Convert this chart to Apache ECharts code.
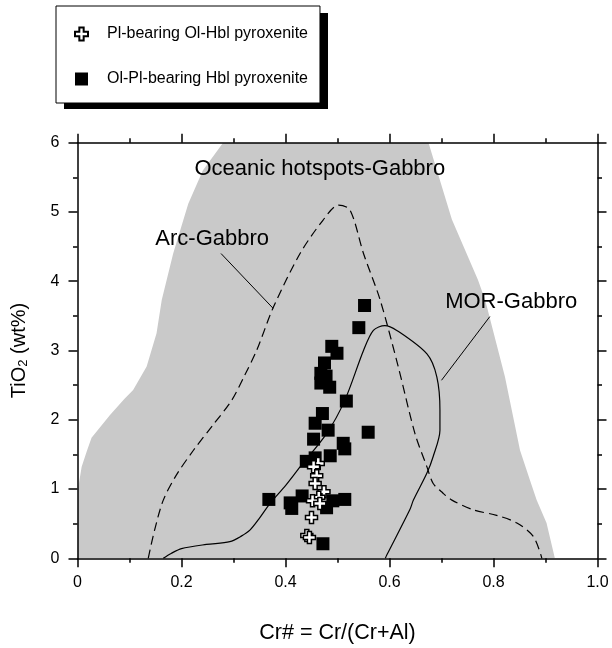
<!DOCTYPE html>
<html><head><meta charset="utf-8">
<script src="https://cdn.jsdelivr.net/npm/echarts/dist/echarts.min.js"></script>
<style>html,body{margin:0;padding:0;background:#fff}#c{width:612px;height:648px}</style>
</head><body><div id="c"></div>
<script>
const FONT = "'Liberation Sans', Arial, Helvetica, sans-serif";

const xTicks = [0, 0.2, 0.4, 0.6, 0.8, 1.0];
const xTickLabels = ['0', '0.2', '0.4', '0.6', '0.8', '1.0'];
const yTicks = [0, 1, 2, 3, 4, 5, 6];
const yTickLabels = ['0', '1', '2', '3', '4', '5', '6'];

const seriesNames = ['Pl-bearing Ol-Hbl pyroxenite', 'Ol-Pl-bearing Hbl pyroxenite'];

// Pl-bearing Ol-Hbl pyroxenite (open crosses)
const plBearing = [
  [0.463, 1.37], [0.454, 1.32], [0.460, 1.19], [0.457, 1.08], [0.474, 0.96],
  [0.464, 0.88], [0.452, 0.83], [0.466, 0.79], [0.450, 0.59], [0.441, 0.33], [0.446, 0.30]
];

// Ol-Pl-bearing Hbl pyroxenite (filled squares)
const olPlBearing = [
  [0.552, 3.65], [0.541, 3.33], [0.489, 3.06], [0.499, 2.96], [0.475, 2.82],
  [0.468, 2.67], [0.478, 2.63], [0.468, 2.53], [0.485, 2.47], [0.517, 2.27],
  [0.471, 2.09], [0.457, 1.95], [0.482, 1.85], [0.559, 1.82], [0.454, 1.72],
  [0.511, 1.66], [0.514, 1.58], [0.486, 1.48], [0.457, 1.45], [0.440, 1.40],
  [0.368, 0.85], [0.409, 0.80], [0.412, 0.72], [0.432, 0.90], [0.491, 0.83],
  [0.514, 0.85], [0.479, 0.73], [0.472, 0.21]
];

// Oceanic hotspots-Gabbro field (closed polygon)
const hotspotField = [
  [0, 0], [0.001, 1.0], [0.008, 1.32], [0.018, 1.55], [0.027, 1.74], [0.0625, 2.07],
  [0.09, 2.3], [0.107, 2.43], [0.133, 2.77], [0.152, 3.25], [0.162, 3.73], [0.184, 4.40],
  [0.213, 5.12], [0.241, 5.6], [0.28, 6.0],
  [0.675, 6.0], [0.72, 4.89], [0.77, 4.02], [0.784, 3.73], [0.822, 2.62], [0.851, 1.56],
  [0.87, 1.13], [0.883, 0.84], [0.902, 0.51], [0.918, 0]
];

// Arc-Gabbro field boundary (dashed)
const arcGabbro = [
  [0.136, 0], [0.148, 0.4], [0.165, 0.84], [0.19, 1.2], [0.223, 1.56], [0.26, 1.92],
  [0.2965, 2.28], [0.322, 2.65], [0.345, 3.01], [0.377, 3.63], [0.428, 4.40], [0.472, 4.88],
  [0.502, 5.10], [0.524, 5.03], [0.55, 4.40], [0.582, 3.73], [0.617, 2.76], [0.649, 1.80],
  [0.672, 1.32], [0.684, 1.08], [0.703, 0.94], [0.72, 0.84], [0.761, 0.70], [0.806, 0.62],
  [0.845, 0.51], [0.877, 0.31], [0.893, 0]
];

// MOR-Gabbro field boundary (solid)
const morGabbro = [
  [0.165, 0], [0.18, 0.07], [0.20, 0.14], [0.248, 0.2], [0.293, 0.24], [0.315, 0.32],
  [0.332, 0.41], [0.35, 0.58], [0.37, 0.79], [0.40, 1.05], [0.428, 1.32], [0.479, 1.80],
  [0.514, 2.28], [0.55, 3.0], [0.569, 3.29], [0.591, 3.36], [0.614, 3.29], [0.672, 2.95],
  [0.691, 2.62], [0.697, 2.14], [0.697, 1.85], [0.684, 1.47], [0.672, 1.23], [0.646, 0.84],
  [0.639, 0.70], [0.595, 0.05], [0.592, 0]
];

const arcLeader = [[0.276, 4.40], [0.376, 3.61]];
const morLeader = [[0.793, 3.49], [0.70, 2.57]];

const fieldLabels = ['Oceanic hotspots-Gabbro', 'Arc-Gabbro', 'MOR-Gabbro'];
const fieldLabelAnchors = [[0.466, 5.62], [0.259, 4.61], [0.834, 3.70]];

const chart = echarts.init(document.getElementById('c'), null, {renderer: 'canvas'});

function axisCommon(extra) {
  return Object.assign({
    type: 'value', z: 10,
    axisLine: {show: true, onZero: false, lineStyle: {color: '#000', width: 1.5}},
    axisTick: {show: true, inside: false, length: 9, lineStyle: {color: '#000', width: 1.5}},
    minorTick: {show: true, splitNumber: 2, length: 4.5, lineStyle: {color: '#000', width: 1.5}},
    splitLine: {show: false}, minorSplitLine: {show: false},
    nameMoveOverlap: false
  }, extra);
}
function lookup(ticks, labels, v) {
  const i = ticks.findIndex(t => Math.abs(t - v) < 1e-9);
  return i >= 0 ? labels[i] : '';
}

const option = {
  animation: false,
  backgroundColor: '#fff',
  grid: {left: 77.5, right: 14.5, top: 142.7, bottom: 89.7, containLabel: false, outerBoundsMode: 'none'},
  graphic: [
    {type: 'rect', left: 64, top: 13, z: 0, silent: true,
     shape: {width: 264, height: 96}, style: {fill: '#000'}}
  ],
  legend: {
    data: seriesNames, orient: 'vertical', left: 56, top: 6, z: 6,
    padding: [20, 12, 16, 18], itemGap: 29, itemWidth: 13, itemHeight: 13,
    backgroundColor: '#fff', borderColor: '#000', borderWidth: 1,
    textStyle: {fontSize: 16, fontFamily: FONT, color: '#000', padding: [0, 0, 0, 14]},
    selectedMode: false
  },
  xAxis: [
    axisCommon({
      position: 'bottom', min: xTicks[0], max: xTicks[xTicks.length - 1], interval: 0.2,
      axisLabel: {fontSize: 16, fontFamily: FONT, color: '#000', margin: 16,
        formatter: v => lookup(xTicks, xTickLabels, v)},
      name: 'Cr# = Cr/(Cr+Al)', nameLocation: 'middle', nameGap: 64,
      nameTextStyle: {fontSize: 21.5, fontFamily: FONT, color: '#000'}
    }),
    axisCommon({position: 'top', min: 0, max: 1, interval: 0.2, axisLabel: {show: false}})
  ],
  yAxis: [
    axisCommon({
      position: 'left', min: yTicks[0], max: yTicks[yTicks.length - 1], interval: 1,
      axisLabel: {fontSize: 16, fontFamily: FONT, color: '#000', margin: 18,
        formatter: v => lookup(yTicks, yTickLabels, v)},
      name: 'TiO{sub|2} (wt%)', nameLocation: 'middle', nameGap: 48,
      nameTextStyle: {fontSize: 20, fontFamily: FONT, color: '#000',
        rich: {sub: {fontSize: 13, fontFamily: FONT, color: '#000', verticalAlign: 'bottom', padding: [6, 0, 0, 0]}}}
    }),
    axisCommon({position: 'right', min: 0, max: 6, interval: 1, axisLabel: {show: false}})
  ],
  series: [
    {
      type: 'custom', name: 'field', silent: true, z: 1, clip: true,
      data: [[0, 0]],
      renderItem: (params, api) => ({
        type: 'polygon',
        shape: {points: hotspotField.map(p => api.coord(p))},
        style: {fill: '#c9c9c9', stroke: null}
      })
    },
    {
      type: 'line', name: 'arc', data: arcGabbro, symbol: 'none', showSymbol: false, smooth: 0.3,
      silent: true, z: 2, lineStyle: {color: '#000', width: 1.2, type: [9, 5]}
    },
    {
      type: 'line', name: 'mor', data: morGabbro, symbol: 'none', showSymbol: false, smooth: 0.3,
      silent: true, z: 2, lineStyle: {color: '#000', width: 1.2}
    },
    {
      type: 'line', name: 'arcLeader', data: arcLeader, symbol: 'none', showSymbol: false,
      silent: true, z: 2, lineStyle: {color: '#000', width: 1}
    },
    {
      type: 'line', name: 'morLeader', data: morLeader, symbol: 'none', showSymbol: false,
      silent: true, z: 2, lineStyle: {color: '#000', width: 1}
    },
    {
      type: 'custom', name: 'labels', silent: true, z: 3,
      data: fieldLabelAnchors.map((p, i) => [p[0], p[1], i]),
      renderItem: (params, api) => {
        const pt = api.coord([api.value(0), api.value(1)]);
        return {
          type: 'text', x: pt[0], y: pt[1],
          style: {text: fieldLabels[api.value(2)], fontSize: 22, fontFamily: FONT, fill: '#000',
            align: 'center', verticalAlign: 'middle', textAlign: 'center', textVerticalAlign: 'middle'}
        };
      }
    },
    {
      type: 'scatter', name: seriesNames[1], data: olPlBearing, symbol: 'rect', symbolSize: 13, z: 4,
      itemStyle: {color: '#000', opacity: 1}
    },
    {
      type: 'scatter', name: seriesNames[0], data: plBearing,
      symbol: 'path://M4,0H8V4H12V8H8V12H4V8H0V4H4Z', symbolSize: 12, z: 5,
      itemStyle: {color: '#fff', borderColor: '#000', borderWidth: 1.5, opacity: 1}
    }
  ]
};
chart.setOption(option);
</script>
</body></html>
